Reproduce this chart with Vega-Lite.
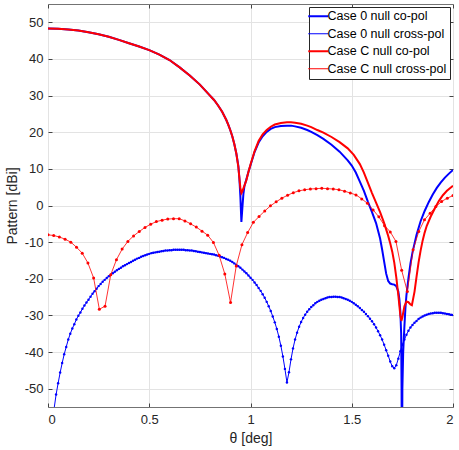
{
  "$schema": "https://vega.github.io/schema/vega-lite/v6.json",
  "width": 405,
  "height": 403,
  "autosize": {"type": "none"},
  "padding": {"left": 48, "top": 4, "right": 6, "bottom": 43},
  "background": "white",
  "datasets": {
    "c0co": [
      {"t": 0, "v": 48.3}, {"t": 0.05, "v": 48.25}, {"t": 0.1, "v": 48.05}, {"t": 0.15, "v": 47.75},
      {"t": 0.2, "v": 47.3}, {"t": 0.25, "v": 46.75}, {"t": 0.3, "v": 46.05}, {"t": 0.35, "v": 45.2},
      {"t": 0.4, "v": 44.3}, {"t": 0.45, "v": 43.4}, {"t": 0.5, "v": 42.4}, {"t": 0.55, "v": 41.2},
      {"t": 0.6, "v": 39.7}, {"t": 0.65, "v": 37.7}, {"t": 0.7, "v": 35.5}, {"t": 0.75, "v": 33.0},
      {"t": 0.8, "v": 30.0}, {"t": 0.82, "v": 28.8}, {"t": 0.84, "v": 27.3}, {"t": 0.86, "v": 25.6},
      {"t": 0.88, "v": 23.4}, {"t": 0.89, "v": 22.1}, {"t": 0.9, "v": 20.6}, {"t": 0.91, "v": 18.9},
      {"t": 0.92, "v": 16.8}, {"t": 0.93, "v": 14.2}, {"t": 0.94, "v": 10.8}, {"t": 0.945, "v": 7.5},
      {"t": 0.95, "v": 2.5}, {"t": 0.955, "v": -4.5}, {"t": 0.96, "v": -0.5}, {"t": 0.965, "v": 3.2},
      {"t": 0.97, "v": 5.3}, {"t": 0.98, "v": 7.2}, {"t": 0.99, "v": 9.2}, {"t": 1.0, "v": 11.0},
      {"t": 1.02, "v": 14.6}, {"t": 1.04, "v": 17.2}, {"t": 1.06, "v": 18.9}, {"t": 1.08, "v": 20.1},
      {"t": 1.1, "v": 20.9}, {"t": 1.12, "v": 21.4}, {"t": 1.15, "v": 21.7}, {"t": 1.18, "v": 21.8},
      {"t": 1.2, "v": 21.8}, {"t": 1.22, "v": 21.6}, {"t": 1.25, "v": 21.2}, {"t": 1.28, "v": 20.6},
      {"t": 1.3, "v": 20.1}, {"t": 1.33, "v": 19.2}, {"t": 1.36, "v": 18.2}, {"t": 1.4, "v": 16.6},
      {"t": 1.44, "v": 14.7}, {"t": 1.48, "v": 12.3}, {"t": 1.5, "v": 10.9}, {"t": 1.52, "v": 9.0},
      {"t": 1.54, "v": 6.5}, {"t": 1.56, "v": 4.0}, {"t": 1.58, "v": 1.0}, {"t": 1.6, "v": -1.8},
      {"t": 1.62, "v": -4.8}, {"t": 1.64, "v": -9.0}, {"t": 1.65, "v": -12.0}, {"t": 1.66, "v": -15.3},
      {"t": 1.67, "v": -18.6}, {"t": 1.68, "v": -20.6}, {"t": 1.69, "v": -21.3}, {"t": 1.7, "v": -21.5},
      {"t": 1.71, "v": -21.6}, {"t": 1.72, "v": -22.0}, {"t": 1.73, "v": -23.5}, {"t": 1.735, "v": -25.5},
      {"t": 1.74, "v": -29}, {"t": 1.744, "v": -35}, {"t": 1.746, "v": -50}, {"t": 1.748, "v": -80},
      {"t": 1.75, "v": -50}, {"t": 1.754, "v": -40}, {"t": 1.76, "v": -33}, {"t": 1.765, "v": -28},
      {"t": 1.77, "v": -24.5}, {"t": 1.78, "v": -19.8}, {"t": 1.79, "v": -15.8}, {"t": 1.8, "v": -12.8},
      {"t": 1.82, "v": -8.0}, {"t": 1.84, "v": -4.3}, {"t": 1.86, "v": -1.5}, {"t": 1.88, "v": 0.9},
      {"t": 1.9, "v": 3.0}, {"t": 1.92, "v": 4.8}, {"t": 1.94, "v": 6.3}, {"t": 1.96, "v": 7.6},
      {"t": 1.98, "v": 8.7}, {"t": 2.0, "v": 9.7}
    ],
    "cCco": [
      {"t": 0, "v": 48.3}, {"t": 0.05, "v": 48.25}, {"t": 0.1, "v": 48.05}, {"t": 0.15, "v": 47.75},
      {"t": 0.2, "v": 47.3}, {"t": 0.25, "v": 46.75}, {"t": 0.3, "v": 46.05}, {"t": 0.35, "v": 45.2},
      {"t": 0.4, "v": 44.3}, {"t": 0.45, "v": 43.4}, {"t": 0.5, "v": 42.4}, {"t": 0.55, "v": 41.2},
      {"t": 0.6, "v": 39.7}, {"t": 0.65, "v": 37.7}, {"t": 0.7, "v": 35.5}, {"t": 0.75, "v": 33.0},
      {"t": 0.8, "v": 30.0}, {"t": 0.82, "v": 28.8}, {"t": 0.84, "v": 27.3}, {"t": 0.86, "v": 25.6},
      {"t": 0.88, "v": 23.4}, {"t": 0.89, "v": 22.1}, {"t": 0.9, "v": 20.6}, {"t": 0.91, "v": 18.9},
      {"t": 0.92, "v": 16.8}, {"t": 0.93, "v": 14.2}, {"t": 0.94, "v": 10.5}, {"t": 0.945, "v": 7.5},
      {"t": 0.95, "v": 4.8}, {"t": 0.955, "v": 3.4}, {"t": 0.96, "v": 3.9}, {"t": 0.97, "v": 5.4},
      {"t": 0.98, "v": 7.0}, {"t": 0.99, "v": 9.2}, {"t": 1.0, "v": 11.2}, {"t": 1.02, "v": 14.8},
      {"t": 1.04, "v": 17.6}, {"t": 1.06, "v": 19.4}, {"t": 1.08, "v": 20.6}, {"t": 1.1, "v": 21.5},
      {"t": 1.12, "v": 22.1}, {"t": 1.15, "v": 22.5}, {"t": 1.18, "v": 22.7}, {"t": 1.2, "v": 22.7},
      {"t": 1.22, "v": 22.6}, {"t": 1.25, "v": 22.3}, {"t": 1.28, "v": 21.8}, {"t": 1.3, "v": 21.4},
      {"t": 1.33, "v": 20.6}, {"t": 1.36, "v": 19.9}, {"t": 1.4, "v": 18.7}, {"t": 1.44, "v": 17.3},
      {"t": 1.48, "v": 15.6}, {"t": 1.51, "v": 13.8}, {"t": 1.54, "v": 11.3}, {"t": 1.56, "v": 9.0},
      {"t": 1.58, "v": 6.2}, {"t": 1.6, "v": 3.4}, {"t": 1.62, "v": 0.8}, {"t": 1.64, "v": -1.8},
      {"t": 1.66, "v": -4.8}, {"t": 1.68, "v": -8.3}, {"t": 1.69, "v": -10.3}, {"t": 1.7, "v": -12.6},
      {"t": 1.71, "v": -15.6}, {"t": 1.72, "v": -19.6}, {"t": 1.73, "v": -24.5}, {"t": 1.74, "v": -30.0},
      {"t": 1.745, "v": -31.5}, {"t": 1.75, "v": -30.5}, {"t": 1.76, "v": -27.5}, {"t": 1.77, "v": -26.2},
      {"t": 1.78, "v": -26.4}, {"t": 1.79, "v": -27.0}, {"t": 1.797, "v": -27.2}, {"t": 1.81, "v": -23.5},
      {"t": 1.82, "v": -19.4}, {"t": 1.83, "v": -15.5}, {"t": 1.84, "v": -12.3}, {"t": 1.85, "v": -9.6},
      {"t": 1.86, "v": -7.4}, {"t": 1.87, "v": -5.6}, {"t": 1.89, "v": -3.0}, {"t": 1.91, "v": -0.8},
      {"t": 1.93, "v": 1.2}, {"t": 1.95, "v": 2.8}, {"t": 1.97, "v": 4.0}, {"t": 2.0, "v": 5.4}
    ],
    "cCx": [
      {"t": 0, "v": -8.0}, {"t": 0.0282, "v": -8.2}, {"t": 0.0563, "v": -8.6}, {"t": 0.0845, "v": -9.2},
      {"t": 0.1127, "v": -10.0}, {"t": 0.1408, "v": -11.4}, {"t": 0.169, "v": -13.0}, {"t": 0.1972, "v": -15.7},
      {"t": 0.2254, "v": -19.8}, {"t": 0.2535, "v": -28.3}, {"t": 0.2817, "v": -27.5}, {"t": 0.3099, "v": -18.9},
      {"t": 0.338, "v": -14.8}, {"t": 0.3662, "v": -11.9}, {"t": 0.3944, "v": -9.8}, {"t": 0.4225, "v": -8.3},
      {"t": 0.4507, "v": -7.1}, {"t": 0.4789, "v": -6.0}, {"t": 0.507, "v": -5.1}, {"t": 0.5352, "v": -4.4},
      {"t": 0.5634, "v": -4.0}, {"t": 0.5915, "v": -3.7}, {"t": 0.6197, "v": -3.6}, {"t": 0.6479, "v": -3.6},
      {"t": 0.6761, "v": -4.2}, {"t": 0.7042, "v": -5.0}, {"t": 0.7324, "v": -5.9}, {"t": 0.7606, "v": -7.0},
      {"t": 0.7887, "v": -8.1}, {"t": 0.8169, "v": -10.1}, {"t": 0.8451, "v": -13.6}, {"t": 0.8732, "v": -18.7},
      {"t": 0.9014, "v": -26.5}, {"t": 0.9296, "v": -16.5}, {"t": 0.9577, "v": -10.7}, {"t": 0.9859, "v": -7.4},
      {"t": 1.0141, "v": -4.6}, {"t": 1.0423, "v": -3.0}, {"t": 1.0704, "v": -1.5}, {"t": 1.0986, "v": -0.1},
      {"t": 1.1268, "v": 1.0}, {"t": 1.1549, "v": 2.0}, {"t": 1.1831, "v": 2.8}, {"t": 1.2113, "v": 3.5},
      {"t": 1.2394, "v": 4.0}, {"t": 1.2676, "v": 4.3}, {"t": 1.2958, "v": 4.5}, {"t": 1.3239, "v": 4.6},
      {"t": 1.3521, "v": 4.7}, {"t": 1.3803, "v": 4.6}, {"t": 1.4085, "v": 4.5}, {"t": 1.4366, "v": 4.3},
      {"t": 1.4648, "v": 3.9}, {"t": 1.493, "v": 3.4}, {"t": 1.5211, "v": 2.9}, {"t": 1.5493, "v": 1.8},
      {"t": 1.5775, "v": 0.6}, {"t": 1.6056, "v": -1.2}, {"t": 1.6338, "v": -3.1}, {"t": 1.662, "v": -5.5},
      {"t": 1.6901, "v": -7.2}, {"t": 1.7183, "v": -9.8}, {"t": 1.7465, "v": -17.7}, {"t": 1.7746, "v": -23.5},
      {"t": 1.8028, "v": -12.1}, {"t": 1.831, "v": -7.1}, {"t": 1.8592, "v": -3.9}, {"t": 1.8873, "v": -2.1},
      {"t": 1.9155, "v": -0.3}, {"t": 1.9437, "v": 1.1}, {"t": 1.9718, "v": 2.0}, {"t": 2.0, "v": 2.7}
    ],
    "c0x": [
      {"t": 0.0, "v": -80}, {"t": 0.01, "v": -68}, {"t": 0.02, "v": -61}, {"t": 0.03, "v": -55.5},
      {"t": 0.04, "v": -51.6}, {"t": 0.05, "v": -48.5}, {"t": 0.06, "v": -45.6}, {"t": 0.07, "v": -43.0},
      {"t": 0.08, "v": -40.6}, {"t": 0.09, "v": -38.6}, {"t": 0.1, "v": -36.6}, {"t": 0.11, "v": -35.0},
      {"t": 0.12, "v": -33.6}, {"t": 0.13, "v": -32.4}, {"t": 0.14, "v": -31.1}, {"t": 0.15, "v": -30.1},
      {"t": 0.16, "v": -29.2}, {"t": 0.17, "v": -28.2}, {"t": 0.18, "v": -27.3}, {"t": 0.19, "v": -26.5},
      {"t": 0.2, "v": -25.7}, {"t": 0.21, "v": -24.9}, {"t": 0.22, "v": -24.1}, {"t": 0.23, "v": -23.4},
      {"t": 0.24, "v": -22.7}, {"t": 0.25, "v": -22.0}, {"t": 0.26, "v": -21.4}, {"t": 0.27, "v": -20.8},
      {"t": 0.28, "v": -20.3}, {"t": 0.29, "v": -19.8}, {"t": 0.3, "v": -19.3}, {"t": 0.31, "v": -18.9},
      {"t": 0.32, "v": -18.5}, {"t": 0.33, "v": -18.1}, {"t": 0.34, "v": -17.7}, {"t": 0.35, "v": -17.3},
      {"t": 0.36, "v": -17.0}, {"t": 0.37, "v": -16.6}, {"t": 0.38, "v": -16.3}, {"t": 0.39, "v": -16.0},
      {"t": 0.4, "v": -15.7}, {"t": 0.41, "v": -15.4}, {"t": 0.42, "v": -15.1}, {"t": 0.43, "v": -14.8},
      {"t": 0.44, "v": -14.5}, {"t": 0.45, "v": -14.3}, {"t": 0.46, "v": -14.0}, {"t": 0.47, "v": -13.8},
      {"t": 0.48, "v": -13.6}, {"t": 0.49, "v": -13.4}, {"t": 0.5, "v": -13.2}, {"t": 0.51, "v": -13.0},
      {"t": 0.52, "v": -12.9}, {"t": 0.53, "v": -12.8}, {"t": 0.54, "v": -12.7}, {"t": 0.55, "v": -12.6},
      {"t": 0.56, "v": -12.5}, {"t": 0.57, "v": -12.4}, {"t": 0.58, "v": -12.3}, {"t": 0.59, "v": -12.3},
      {"t": 0.6, "v": -12.2}, {"t": 0.61, "v": -12.2}, {"t": 0.62, "v": -12.1}, {"t": 0.63, "v": -12.1},
      {"t": 0.64, "v": -12.1}, {"t": 0.65, "v": -12.1}, {"t": 0.66, "v": -12.1}, {"t": 0.67, "v": -12.1},
      {"t": 0.68, "v": -12.2}, {"t": 0.69, "v": -12.2}, {"t": 0.7, "v": -12.3}, {"t": 0.71, "v": -12.3},
      {"t": 0.72, "v": -12.4}, {"t": 0.73, "v": -12.5}, {"t": 0.74, "v": -12.6}, {"t": 0.75, "v": -12.7},
      {"t": 0.76, "v": -12.8}, {"t": 0.77, "v": -12.9}, {"t": 0.78, "v": -13.0}, {"t": 0.79, "v": -13.1},
      {"t": 0.8, "v": -13.2}, {"t": 0.81, "v": -13.3}, {"t": 0.82, "v": -13.4}, {"t": 0.83, "v": -13.6},
      {"t": 0.84, "v": -13.7}, {"t": 0.85, "v": -13.9}, {"t": 0.86, "v": -14.1}, {"t": 0.87, "v": -14.3},
      {"t": 0.88, "v": -14.6}, {"t": 0.89, "v": -14.8}, {"t": 0.9, "v": -15.1}, {"t": 0.91, "v": -15.4},
      {"t": 0.92, "v": -15.8}, {"t": 0.93, "v": -16.2}, {"t": 0.94, "v": -16.6}, {"t": 0.95, "v": -17.0},
      {"t": 0.96, "v": -17.5}, {"t": 0.97, "v": -18.0}, {"t": 0.98, "v": -18.5}, {"t": 0.99, "v": -19.1},
      {"t": 1.0, "v": -19.7}, {"t": 1.01, "v": -20.3}, {"t": 1.02, "v": -21.0}, {"t": 1.03, "v": -21.7},
      {"t": 1.04, "v": -22.5}, {"t": 1.05, "v": -23.3}, {"t": 1.06, "v": -24.2}, {"t": 1.07, "v": -25.2},
      {"t": 1.08, "v": -26.3}, {"t": 1.09, "v": -27.5}, {"t": 1.1, "v": -28.8}, {"t": 1.11, "v": -30.3},
      {"t": 1.12, "v": -31.9}, {"t": 1.13, "v": -33.7}, {"t": 1.14, "v": -35.8}, {"t": 1.15, "v": -38.3},
      {"t": 1.16, "v": -41.2}, {"t": 1.17, "v": -44.6}, {"t": 1.18, "v": -48.3}, {"t": 1.19, "v": -45.5},
      {"t": 1.2, "v": -42.0}, {"t": 1.21, "v": -39.0}, {"t": 1.22, "v": -36.6}, {"t": 1.23, "v": -34.7},
      {"t": 1.24, "v": -33.1}, {"t": 1.25, "v": -31.8}, {"t": 1.26, "v": -30.7}, {"t": 1.27, "v": -29.8},
      {"t": 1.28, "v": -29.0}, {"t": 1.29, "v": -28.3}, {"t": 1.3, "v": -27.7}, {"t": 1.31, "v": -27.2},
      {"t": 1.32, "v": -26.7}, {"t": 1.33, "v": -26.3}, {"t": 1.34, "v": -26.0}, {"t": 1.35, "v": -25.7},
      {"t": 1.36, "v": -25.5}, {"t": 1.37, "v": -25.3}, {"t": 1.38, "v": -25.1}, {"t": 1.39, "v": -25.0},
      {"t": 1.4, "v": -25.0}, {"t": 1.41, "v": -24.9}, {"t": 1.42, "v": -24.9}, {"t": 1.43, "v": -25.0},
      {"t": 1.44, "v": -25.0}, {"t": 1.45, "v": -25.1}, {"t": 1.46, "v": -25.3}, {"t": 1.47, "v": -25.5},
      {"t": 1.48, "v": -25.7}, {"t": 1.49, "v": -26.0}, {"t": 1.5, "v": -26.3}, {"t": 1.51, "v": -26.7},
      {"t": 1.52, "v": -27.1}, {"t": 1.53, "v": -27.5}, {"t": 1.54, "v": -28.0}, {"t": 1.55, "v": -28.5},
      {"t": 1.56, "v": -29.0}, {"t": 1.57, "v": -29.6}, {"t": 1.58, "v": -30.2}, {"t": 1.59, "v": -30.9},
      {"t": 1.6, "v": -31.6}, {"t": 1.61, "v": -32.4}, {"t": 1.62, "v": -33.3}, {"t": 1.63, "v": -34.3},
      {"t": 1.64, "v": -35.4}, {"t": 1.65, "v": -36.6}, {"t": 1.66, "v": -38.0}, {"t": 1.67, "v": -39.5},
      {"t": 1.68, "v": -41.0}, {"t": 1.69, "v": -42.6}, {"t": 1.7, "v": -43.9}, {"t": 1.71, "v": -44.4},
      {"t": 1.72, "v": -43.6}, {"t": 1.73, "v": -41.8}, {"t": 1.74, "v": -39.8}, {"t": 1.75, "v": -38.0},
      {"t": 1.76, "v": -36.6}, {"t": 1.77, "v": -35.3}, {"t": 1.78, "v": -34.2}, {"t": 1.79, "v": -33.3},
      {"t": 1.8, "v": -32.6}, {"t": 1.81, "v": -32.0}, {"t": 1.82, "v": -31.5}, {"t": 1.83, "v": -31.0},
      {"t": 1.84, "v": -30.6}, {"t": 1.85, "v": -30.3}, {"t": 1.86, "v": -30.0}, {"t": 1.87, "v": -29.8},
      {"t": 1.88, "v": -29.6}, {"t": 1.89, "v": -29.5}, {"t": 1.9, "v": -29.4}, {"t": 1.91, "v": -29.3},
      {"t": 1.92, "v": -29.3}, {"t": 1.93, "v": -29.3}, {"t": 1.94, "v": -29.3}, {"t": 1.95, "v": -29.4},
      {"t": 1.96, "v": -29.5}, {"t": 1.97, "v": -29.6}, {"t": 1.98, "v": -29.7}, {"t": 1.99, "v": -29.8},
      {"t": 2.0, "v": -29.9}
    ]
  },
  "layer": [
    {
      "data": {"name": "c0co"},
      "mark": {"type": "line", "clip": true, "strokeWidth": 2},
      "encoding": {
        "x": {"field": "t", "type": "quantitative", "scale": {"domain": [0, 2], "nice": false, "zero": false},
              "axis": {"orient": "bottom", "title": "θ [deg]", "values": [0, 0.5, 1, 1.5, 2], "format": "~g", "labelPadding": 10, "titlePadding": 5}},
        "y": {"field": "v", "type": "quantitative", "scale": {"domain": [-55, 55], "nice": false, "zero": false},
              "axis": {"orient": "left", "title": "Pattern [dBi]", "values": [-50, -40, -30, -20, -10, 0, 10, 20, 30, 40, 50], "labelPadding": 9, "titlePadding": 5,
                       "labelExpr": "replace(datum.label, '\u2212', '-')"}},
        "color": {"datum": "Case 0 null co-pol", "type": "nominal",
                  "scale": {"domain": ["Case 0 null co-pol", "Case 0 null cross-pol", "Case C null co-pol", "Case C null cross-pol"], "range": ["#0000ff", "#0000ff", "#ff0000", "#ff0000"]},
                  "legend": {"title": null, "orient": "top-right", "offset": 3, "symbolType": "stroke", "symbolSize": 400, "symbolStrokeWidth": 1, "labelFontSize": 12.5, "labelFont": "Liberation Sans", "labelColor": "#000000", "strokeColor": "#262626", "fillColor": "#ffffff", "padding": 3, "rowPadding": 4.5, "labelOffset": 3, "labelLimit": 300,
                             "encode": {"symbols": {"update": {"strokeWidth": {"signal": "test(/cross/, datum.label) ? 1 : 2"}}}}}}
      }
    },
    {
      "data": {"name": "c0x"},
      "mark": {"type": "line", "clip": true, "strokeWidth": 1, "point": {"filled": true, "size": 6, "clip": true}},
      "encoding": {
        "x": {"field": "t", "type": "quantitative", "axis": {"orient": "top", "labels": false, "grid": false, "title": null, "values": [0, 0.5, 1, 1.5, 2]}},
        "y": {"field": "v", "type": "quantitative", "axis": {"orient": "right", "labels": false, "grid": false, "title": null, "values": [-50, -40, -30, -20, -10, 0, 10, 20, 30, 40, 50]}},
        "color": {"datum": "Case 0 null cross-pol", "type": "nominal"}
      }
    },
    {
      "data": {"name": "cCco"},
      "mark": {"type": "line", "clip": true, "strokeWidth": 2},
      "encoding": {
        "x": {"field": "t", "type": "quantitative", "axis": null},
        "y": {"field": "v", "type": "quantitative", "axis": null},
        "color": {"datum": "Case C null co-pol", "type": "nominal"}
      }
    },
    {
      "data": {"name": "cCx"},
      "mark": {"type": "line", "clip": true, "strokeWidth": 1, "opacity": 0.8, "point": {"filled": true, "size": 9, "clip": true}},
      "encoding": {
        "x": {"field": "t", "type": "quantitative", "axis": null},
        "y": {"field": "v", "type": "quantitative", "axis": null},
        "color": {"datum": "Case C null cross-pol", "type": "nominal"}
      }
    }
  ],
  "resolve": {"axis": {"x": "independent", "y": "independent"}},
  "config": {
    "font": "Liberation Sans",
    "view": {"stroke": "#737373", "strokeWidth": 1},
    "axis": {
      "domain": false,
      "labelFont": "Liberation Sans",
      "labelFontSize": 13,
      "labelColor": "#262626",
      "titleFont": "Liberation Sans",
      "titleFontSize": 14,
      "titleFontWeight": "normal",
      "titleColor": "#262626",
      "gridColor": "#e3e3e3",
      "gridWidth": 1,
      "ticks": true,
      "tickColor": "#444444",
      "tickSize": -4
    }
  }
}
